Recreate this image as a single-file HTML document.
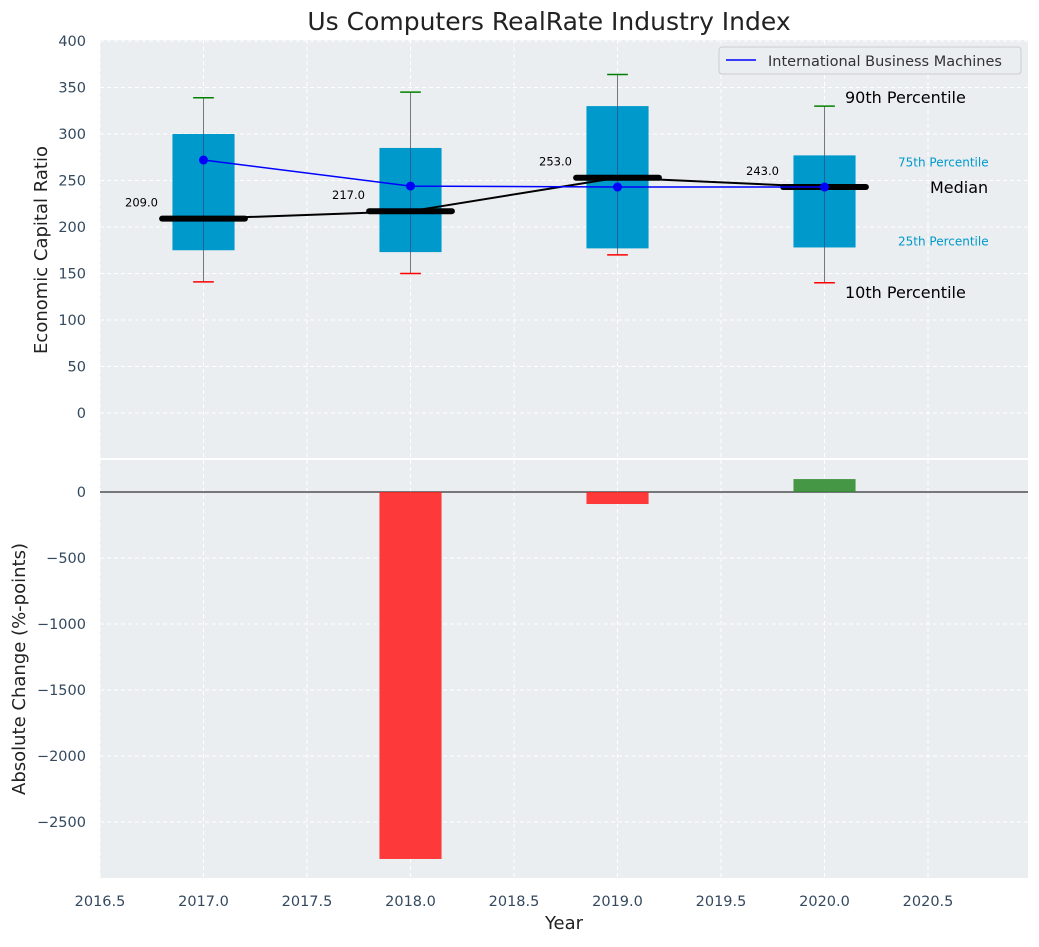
<!DOCTYPE html>
<html><head><meta charset="utf-8"><style>
body{margin:0;background:#fff;font-family:"Liberation Sans","DejaVu Sans",sans-serif}
svg text{font-family:"DejaVu Sans","Liberation Sans",sans-serif}
</style></head><body>
<svg id="c" width="1039" height="942"></svg>
<script>
const years=[2017,2018,2019,2020];
const p10=[141,150,170,140];
const q1=[175,173,177,178];
const medians=[209,217,253,243];
const q3=[300,285,330,277];
const p90=[339,345,364,330];
const ibm=[272,244,243,243];
const changes=[0,-2780,-91,98];
const xTicks=[2016.5,2017,2017.5,2018,2018.5,2019,2019.5,2020,2020.5];
const yTicksTop=[0,50,100,150,200,250,300,350,400];
const yTicksBot=[0,-500,-1000,-1500,-2000,-2500];

const NS="http://www.w3.org/2000/svg";
const svg=document.getElementById('c');
function el(t,a,p){const e=document.createElementNS(NS,t);for(const k in a)e.setAttribute(k,a[k]);(p||svg).appendChild(e);return e;}
const L=100,R=1028;
const x=v=>L+(v-2016.5)*(R-L)/(2020.983-2016.5);
const T0=40,T1=458,B0=460,B1=878;
const yT=v=>413-(v)*(413-41)/400;
const yB=v=>492-v*(66/500);

let e=el('rect',{x:L,y:T0,width:R-L,height:T1-T0,fill:'#eaeef0'});

e=el('rect',{x:L,y:B0,width:R-L,height:B1-B0,fill:'#eaeef0'});

xTicks.forEach(t=>{
 el('line',{x1:x(t),x2:x(t),y1:T0,y2:T1,stroke:'#fff','stroke-dasharray':'4,3','stroke-width':1});
 el('line',{x1:x(t),x2:x(t),y1:B0,y2:B1,stroke:'#fff','stroke-dasharray':'4,3','stroke-width':1});
 e=el('text',{x:x(t),y:906,'text-anchor':'middle','font-size':14.5,fill:'#34495e'});e.textContent=t.toFixed(1);
 
});
yTicksTop.forEach(t=>{
 el('line',{x1:L,x2:R,y1:yT(t),y2:yT(t),stroke:'#fff','stroke-dasharray':'4,3'});
 e=el('text',{x:86,y:yT(t)+5,'text-anchor':'end','font-size':14.5,fill:'#34495e'});e.textContent=t;
 
});
yTicksBot.forEach(t=>{
 el('line',{x1:L,x2:R,y1:yB(t),y2:yB(t),stroke:'#fff','stroke-dasharray':'4,3'});
 e=el('text',{x:86,y:yB(t)+5,'text-anchor':'end','font-size':14.5,fill:'#34495e'});e.textContent=t===0?'0':'\u2212'+Math.abs(t);
 
});
const bw=0.3,mw=0.4,cw=0.1;
years.forEach((yr,i)=>{
 const g=el('g',{});
 el('line',{x1:x(yr),x2:x(yr),y1:yT(p90[i]),y2:yT(p10[i]),stroke:'#777','stroke-width':1},g);
 el('rect',{x:x(yr-bw/2),width:x(yr+bw/2)-x(yr-bw/2),y:yT(q3[i]),height:yT(q1[i])-yT(q3[i]),fill:'#0099cc'},g);
 el('line',{x1:x(yr),x2:x(yr),y1:yT(q3[i]),y2:yT(q1[i]),stroke:'#336',"stroke-opacity":0.5,'stroke-width':1},g);
 el('line',{x1:x(yr-cw/2),x2:x(yr+cw/2),y1:yT(p90[i]),y2:yT(p90[i]),stroke:'green','stroke-width':1.5},g);
 el('line',{x1:x(yr-cw/2),x2:x(yr+cw/2),y1:yT(p10[i]),y2:yT(p10[i]),stroke:'red','stroke-width':1.5},g);
 el('line',{x1:x(yr-mw/2),x2:x(yr+mw/2),y1:yT(medians[i]),y2:yT(medians[i]),stroke:'#000','stroke-width':6,'stroke-linecap':'round'},g);
 const t=el('text',{x:x(yr)-62,y:yT(medians[i])-12,'text-anchor':'middle','font-size':11.5,fill:'#000'},g);t.textContent=medians[i].toFixed(1);
});
e=el('polyline',{points:years.map((y,i)=>x(y)+','+yT(medians[i])).join(' '),fill:'none',stroke:'#000','stroke-width':2});

e=el('polyline',{points:years.map((y,i)=>x(y)+','+yT(ibm[i])).join(' '),fill:'none',stroke:'blue','stroke-width':1.5});

years.forEach((y,i)=>{e=el('circle',{cx:x(y),cy:yT(ibm[i]),r:4.5,fill:'blue'});
 });
const li=years.length-1;
[['90th Percentile',845,yT(p90[li])-3,16,'#000'],['75th Percentile',898,yT(q3[li])+11,12,'#0099cc'],['Median',930,yT(medians[li])+6,16,'#000'],['25th Percentile',898,yT(q1[li])-2,12,'#0099cc'],['10th Percentile',845,yT(p10[li])+15,16,'#000']].forEach(a=>{
 e=el('text',{x:a[1],y:a[2],'font-size':a[3],fill:a[4]});e.textContent=a[0];
 
});
const lg=el('g',{});
el('rect',{x:719,y:47,width:302,height:27,rx:3,fill:'#eaeef0',stroke:'#ccc'},lg);
el('line',{x1:726,x2:756,y1:60,y2:60,stroke:'blue','stroke-width':1.5},lg);
e=el('text',{x:768,y:66,'font-size':14.5,fill:'#333'},lg);e.textContent='International Business Machines';
el('line',{x1:L,x2:R,y1:yB(0),y2:yB(0),stroke:'#000','stroke-width':1});
years.forEach((yr,i)=>{
 const v=changes[i];
 e=el('rect',{x:x(yr-bw/2),width:x(yr+bw/2)-x(yr-bw/2),y:Math.min(yB(0),yB(v)),height:Math.abs(yB(v)-yB(0)),fill:v>=0?'#2e8b2e':'#ff2020','fill-opacity':0.88});
 
});
e=el('text',{x:549,y:30,'text-anchor':'middle','font-size':25,fill:'#222'});e.textContent='Us Computers RealRate Industry Index';

e=el('text',{x:564,y:929,'text-anchor':'middle','font-size':18,fill:'#222'});e.textContent='Year';

e=el('text',{x:0,y:0,'text-anchor':'middle','font-size':18,fill:'#222',transform:'translate(47,250) rotate(-90)'});e.textContent='Economic Capital Ratio';

e=el('text',{x:0,y:0,'text-anchor':'middle','font-size':18,fill:'#222',transform:'translate(25,669) rotate(-90)'});e.textContent='Absolute Change (%-points)';

</script>
</body></html>
